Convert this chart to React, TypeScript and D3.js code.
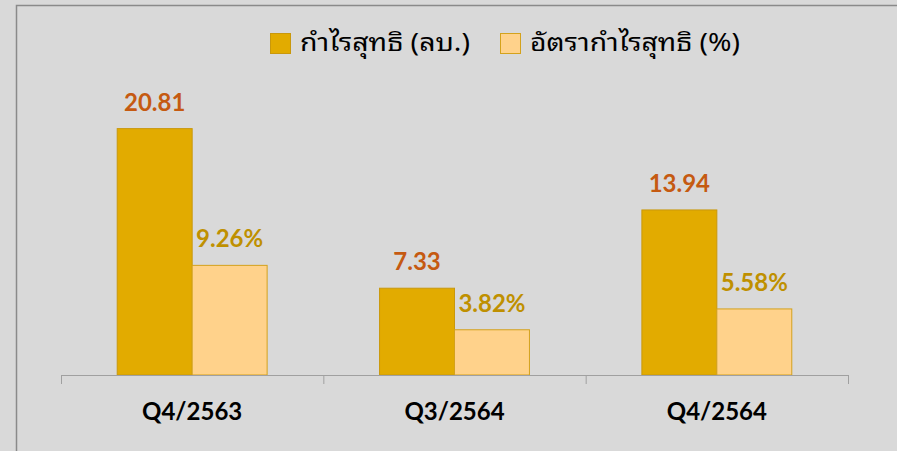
import React from 'react';
import * as d3 from 'd3';

const categories = ['Q4/2563', 'Q3/2564', 'Q4/2564'];
const profitValues = [20.81, 7.33, 13.94];
const marginValues = [9.26, 3.82, 5.58];
const seriesNames = ['กำไรสุทธิ (ลบ.)', 'อัตรากำไรสุทธิ (%)'];

const W = 897;
const H = 451;
const BG = '#d9d9d9';
const DARK = '#e2ab00';
const DARK_STROKE = '#c9980c';
const LIGHT = '#ffd28b';
const LIGHT_STROKE = '#d4a21c';
const LATIN = 'Lato, Carlito, Calibri, "Open Sans", sans-serif';
const THAI = 'Tahoma, "Noto Sans Thai Looped", "Noto Serif Thai", Loma, Garuda, "Noto Sans Thai", sans-serif';

const App = () => {
  const x = d3.scaleBand<string>().domain(categories).range([61, 848]).padding(0);
  const inner = d3
    .scaleBand<string>()
    .domain(seriesNames)
    .range([0, x.bandwidth()])
    .paddingInner(0)
    .paddingOuter(0.75);
  const y = d3.scaleLinear().domain([0, 25]).range([375, 79]);

  const tickXs = [...categories.map((c) => x(c) as number), x.range()[1]];

  const bars = categories.flatMap((c, i) => [
    { c, s: seriesNames[0], v: profitValues[i], label: profitValues[i].toFixed(2), fill: DARK, stroke: DARK_STROKE, color: '#c55a11' },
    { c, s: seriesNames[1], v: marginValues[i], label: marginValues[i].toFixed(2) + '%', fill: LIGHT, stroke: LIGHT_STROKE, color: '#bf9000' },
  ]);

  return (
    <svg
      width={W}
      height={H}
      style={{ position: 'absolute', left: 0, top: 0, display: 'block' }}
    >
      <rect x={0} y={0} width={W} height={H} fill={BG} />
      <rect x={16.5} y={5.5} width={W + 10} height={H + 10} fill="none" stroke="#8a8a8a" strokeWidth={1.5} />

      {/* legend */}
      <g>
        <rect x={270.5} y={33.5} width={20} height={20} fill={DARK} stroke={DARK_STROKE} />
        <text x={300} y={51} fontFamily={THAI} fontSize={25} fill="#000" textLength={170} lengthAdjust="spacingAndGlyphs">
          {seriesNames[0]}
        </text>
        <rect x={500.5} y={33.5} width={20} height={20} fill={LIGHT} stroke={LIGHT_STROKE} />
        <text x={530} y={51} fontFamily={THAI} fontSize={25} fill="#000" textLength={210} lengthAdjust="spacingAndGlyphs">
          {seriesNames[1]}
        </text>
      </g>

      {/* bars */}
      {bars.map((b) => {
        const bx = (x(b.c) as number) + (inner(b.s) as number);
        const by = y(b.v);
        return (
          <g key={b.c + b.s}>
            <rect
              x={bx}
              y={by}
              width={inner.bandwidth()}
              height={y(0) - by}
              fill={b.fill}
              stroke={b.stroke}
              strokeWidth={1}
            />
            <text
              x={bx + inner.bandwidth() / 2}
              y={by - 18}
              textAnchor="middle"
              fontFamily={LATIN}
              fontWeight="bold"
              fontSize={24}
              fill={b.color}
            >
              {b.label}
            </text>
          </g>
        );
      })}

      {/* axis */}
      <line x1={tickXs[0]} x2={tickXs[tickXs.length - 1]} y1={375.5} y2={375.5} stroke="#a0a0a0" strokeWidth={1} />
      {tickXs.map((t, i) => (
        <line key={i} x1={t + 0.5} x2={t + 0.5} y1={375} y2={384} stroke="#a0a0a0" strokeWidth={1} />
      ))}
      {categories.map((c) => (
        <text
          key={c}
          x={(x(c) as number) + x.bandwidth() / 2}
          y={420}
          textAnchor="middle"
          fontFamily={LATIN}
          fontWeight="bold"
          fontSize={24}
          fill="#000"
        >
          {c}
        </text>
      ))}
    </svg>
  );
};

export default App;
